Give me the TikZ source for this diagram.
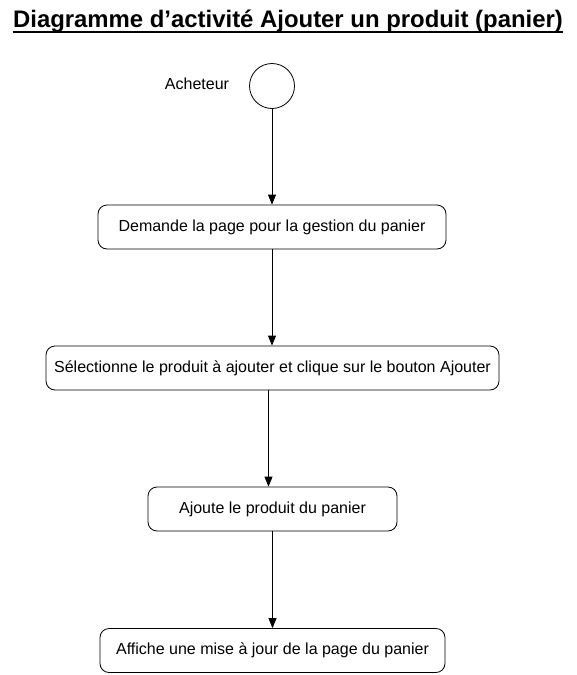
\documentclass[tikz,border=0pt]{standalone}
\usepackage{fontspec}
\setmainfont{Liberation Sans}
\usetikzlibrary{arrows.meta}

\tikzset{activite/.style={draw, rounded corners=9pt, minimum height=44pt, inner sep=0pt, font=\fontsize{16}{19}\selectfont},
  fleche/.style={-{Triangle[width=8pt,length=10pt]}}}

\begin{document}
\begin{tikzpicture}[x=1pt, y=-1pt, line width=0.8pt]
				\useasboundingbox (0,0) rectangle (576,675);
				% Titre
				\node (titre) at (288,21) {\fontsize{23.9}{27}\selectfont\bfseries Diagramme d’activité Ajouter un produit (panier)};
				\draw[line width=1.8pt] (titre.south west) ++(4pt,4pt) coordinate (sw) (titre.south east) ++(-4pt,4pt) coordinate (se);
				\draw[line width=1.8pt] (sw) -- (se);
				% Etat initial
				\node[draw, circle, minimum size=45pt, inner sep=0pt] (debut) at (272,86) {};
				\node (acteur) at (197,84) {\fontsize{16}{19}\selectfont Acheteur};
				% Activites
				\node[activite, minimum width=348pt] (a1) at (272,227) {Demande la page pour la gestion du panier};
				\node[activite, minimum width=453pt] (a2) at (272.5,368) {Sélectionne le produit à ajouter et clique sur le bouton Ajouter};
				\node[activite, minimum width=249pt] (a3) at (272.5,509) {Ajoute le produit du panier};
				\node[activite, minimum width=345pt] (a4) at (272.5,650.5) {Affiche une mise à jour de la page du panier};
				% Transitions
				\draw[fleche] (debut) -- (a1);
				\draw[fleche] (a1.south) -- (a2.north -| a1.south);
				\draw[fleche] ([xshift=-4pt]a2.south) -- ([xshift=-4pt]a3.north);
				\draw[fleche] (a3) -- (a4);
			\end{tikzpicture}
\end{document}
